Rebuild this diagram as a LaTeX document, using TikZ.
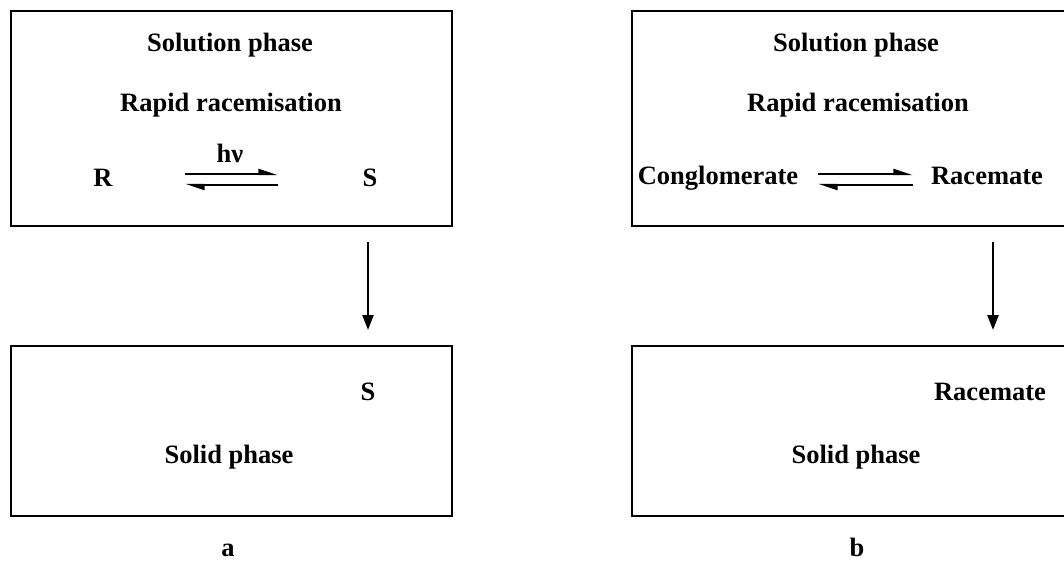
\documentclass[tikz,border=0pt]{standalone}
\usepackage{fontspec}
\setmainfont{Liberation Serif}
\usetikzlibrary{arrows.meta,positioning}

\begin{document}
\begin{tikzpicture}[x=1pt,y=-1pt,
          box/.style={draw,line width=2.8pt,inner sep=0pt,outer sep=0pt,
                      minimum width=441pt},
          lb/.style={font=\fontsize{26.5}{30}\selectfont\bfseries,anchor=base,inner sep=0pt},
          ar/.style={-{Triangle[length=15pt,width=11pt]},line width=2.4pt,shorten <=16pt,shorten >=16pt},
          eq/.style={-{Stealth[left,length=16pt,width=10pt,inset=0pt]},line width=2.2pt}
        ]
          \useasboundingbox (0,0) rectangle (1064,561);

          % panel a
          \node(boxa)[box,minimum height=215pt] at (231.5,118.5) {};
          \node(sola)[lb] at (230,52) {Solution phase};
          \node(rapa)[lb] at (231,112) {Rapid racemisation};
          \node(ra)[lb] at (103,187) {R};
          \node(hv)[lb] at (230,163) {hν};
          \node(sa)[lb] at (370,187) {S};
          \coordinate(ea1) at (185,174);
          \coordinate(ea2) at (278,174);
          \coordinate(ea3) at (278,185);
          \coordinate(ea4) at (185,185);
          \draw[eq] (ea1) -- (ea2);
          \draw[eq] (ea3) -- (ea4);

          \node(solida)[box,minimum height=170pt] at (231.5,431) {};
          \node(sa2)[lb] at (368,400) {S};
          \node(spa)[lb] at (229,463) {Solid phase};
          \draw[ar] (boxa.south -| sa2.center) -- (solida.north -| sa2.center);
          \node(la)[lb] at (228,556) {a};

          % panel b
          \node(boxb)[box,minimum width=438pt,minimum height=215pt] at (851,118.5) {};
          \node(solb)[lb] at (856,52) {Solution phase};
          \node(rapb)[lb] at (858,112) {Rapid racemisation};
          \node(cg)[lb] at (718,185) {Conglomerate};
          \node(rc)[lb] at (987,185) {Racemate};
          \coordinate(eb1) at (818,174);
          \coordinate(eb2) at (913,174);
          \coordinate(eb3) at (913,185);
          \coordinate(eb4) at (818,185);
          \draw[eq] (eb1) -- (eb2);
          \draw[eq] (eb3) -- (eb4);

          \node(solidb)[box,minimum width=438pt,minimum height=170pt] at (851,431) {};
          \node(rc2)[lb] at (990,400) {Racemate};
          \node(spb)[lb] at (856,463) {Solid phase};
          \coordinate(db) at (993,300);
          \draw[ar] (boxb.south -| db) -- (solidb.north -| db);
          \node(lbl)[lb] at (857,556) {b};
        \end{tikzpicture}
\end{document}
